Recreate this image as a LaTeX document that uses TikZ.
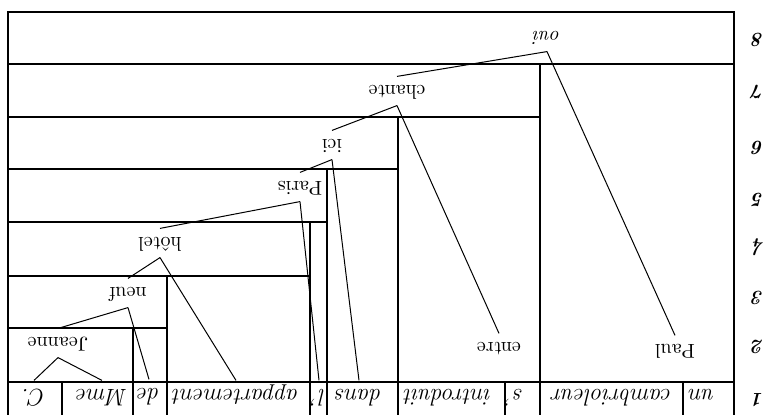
\documentclass[tikz,border=0pt]{standalone}
\usetikzlibrary{calc}

\tikzset{
  word/.style={rotate=180, inner sep=3pt, text height=1.6ex, text depth=.3ex},
  lex/.style={word, font=\large\itshape},
  rownum/.style={rotate=180, font=\bfseries\itshape},
  frame/.style={black, line width=.6pt},
  branch/.style={black, line width=.5pt}
}

\begin{document}
\begin{tikzpicture}[x=.5pt,y=-.5pt]
\useasboundingbox (0,0) rectangle (774,415);

% nested boxes
\draw[frame] (8,415) -- (8,12) -- (734,12) -- (734,415);
\draw[frame] (8,64) -- (734,64);
\draw[frame] (8,117) -- (540,117);
\draw[frame] (8,169) -- (398,169);
\draw[frame] (8,222) -- (327,222);
\draw[frame] (8,276) -- (310,276);
\draw[frame] (8,328) -- (167,328);
\draw[frame] (8,382) -- (734,382);
\draw[frame] (540,64) -- (540,415);
\draw[frame] (398,117) -- (398,415);
\draw[frame] (327,169) -- (327,415);
\draw[frame] (310,222) -- (310,415);
\draw[frame] (167,276) -- (167,415);
\draw[frame] (133,328) -- (133,415);
\draw[frame] (62,382) -- (62,415);
\draw[frame] (505,382) -- (505,415);
\draw[frame] (683,382) -- (683,415);

% words of the sentence
\node[lex] (un) at (702,395) {un};
\node[lex] (cambrioleur) at (612,395) {cambrioleur};
\node[lex] (s) at (515,395) {s'};
\node[lex] (introduit) at (448,395) {introduit};
\node[lex] (dans) at (359,395) {dans};
\node[lex] (l) at (319,395) {l'};
\node[lex] (appartement) at (236,395) {appartement};
\node[lex] (de) at (149,394) {de};
\node[lex] (Mme) at (102,395) {Mme};
\node[lex] (C) at (34,395) {C.};

% heads
\node[word] (Paul) at (675,350) {Paul};
\node[word] (entre) at (499,348) {entre};
\node[word] (Jeanne) at (58,343) {Jeanne};
\node[word] (neuf) at (128,293) {neuf};
\node[word] (hotel) at (160,243) {hôtel};
\node[word] (Paris) at (300,187) {Paris};
\node[word] (ici) at (332,145) {ici};
\node[word] (chante) at (397,91) {chante};
\node[word, font=\itshape] (oui) at (547,37) {oui};

% row numbers
\foreach \n/\y in {1/400,2/347,3/298,4/247,5/200,6/148,7/92,8/40}
  \node[rownum] (row\n) at (758,\y) {\n};

% tree
\draw[branch] (oui.north) -- (chante.south);
\draw[branch] (oui.north) -- (Paul.south);
\draw[branch] (chante.north) -- (ici.south);
\draw[branch] (chante.north) -- (entre.south);
\draw[branch] (ici.north) -- (Paris.south);
\draw[branch] (ici.north) -- (dans.south);
\draw[branch] (Paris.north) -- (hotel.south);
\draw[branch] (Paris.north) -- (l.south);
\draw[branch] (hotel.north) -- (neuf.south);
\draw[branch] (hotel.north) -- (appartement.south);
\draw[branch] (neuf.north) -- (Jeanne.south);
\draw[branch] (neuf.north) -- (de.south);
\draw[branch] (Jeanne.north) -- (C.south);
\draw[branch] (Jeanne.north) -- (Mme.south);

\end{tikzpicture}
\end{document}
